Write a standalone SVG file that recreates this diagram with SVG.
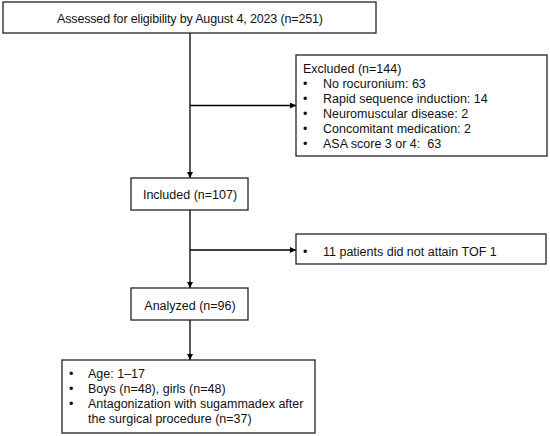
<svg xmlns="http://www.w3.org/2000/svg" width="550" height="436" viewBox="0 0 550 436">
<defs>
<marker id="ah" viewBox="0 0 10 10" refX="10" refY="5" markerWidth="6" markerHeight="6" markerUnits="userSpaceOnUse" orient="auto">
<path d="M0,0 L10,5 L0,10 z" fill="#000"/>
</marker>
<style>
.box{fill:#fff;stroke:#222;stroke-width:1.3}
.t{font-family:"Liberation Sans",Arial,sans-serif;font-size:12.5px;fill:#111}
.c{text-anchor:middle}
.ln{stroke:#000;stroke-width:1.3;fill:none}
</style>
</defs>
<rect width="550" height="436" fill="#fff"/>
<g id="connectors">
<line class="ln" x1="190" y1="33" x2="190" y2="178" marker-end="url(#ah)"/>
<line class="ln" x1="190" y1="105.5" x2="296" y2="105.5" marker-end="url(#ah)"/>
<line class="ln" x1="190" y1="210" x2="190" y2="288" marker-end="url(#ah)"/>
<line class="ln" x1="190" y1="250" x2="296" y2="250" marker-end="url(#ah)"/>
<line class="ln" x1="190" y1="320" x2="190" y2="360" marker-end="url(#ah)"/>
</g>
<g id="assessed">
<rect class="box" x="3" y="2" width="373" height="31"/>
<text class="t c" x="190" y="22.5" textLength="266">Assessed for eligibility by August 4, 2023 (n=251)</text>
</g>
<g id="excluded">
<rect class="box" x="296" y="55" width="251" height="101"/>
<text class="t" x="303" y="72.5">Excluded (n=144)</text>
<text class="t" x="303" y="87.5">•<tspan x="323">No rocuronium: 63</tspan></text>
<text class="t" x="303" y="102.5">•<tspan x="323">Rapid sequence induction: 14</tspan></text>
<text class="t" x="303" y="117.5">•<tspan x="323">Neuromuscular disease: 2</tspan></text>
<text class="t" x="303" y="133">•<tspan x="323">Concomitant medication: 2</tspan></text>
<text class="t" x="303" y="148">•<tspan x="323">ASA score 3 or 4:&#160; 63</tspan></text>
</g>
<g id="included">
<rect class="box" x="131" y="178" width="117" height="32"/>
<text class="t c" x="190" y="198.5">Included (n=107)</text>
</g>
<g id="tof">
<rect class="box" x="296" y="234" width="250" height="30"/>
<text class="t" x="303" y="255.5">•<tspan x="323">11 patients did not attain TOF 1</tspan></text>
</g>
<g id="analyzed">
<rect class="box" x="131" y="288" width="117" height="32"/>
<text class="t c" x="190" y="309.5">Analyzed (n=96)</text>
</g>
<g id="characteristics">
<rect class="box" x="62" y="360" width="253" height="73"/>
<text class="t" x="69" y="377.5">•<tspan x="88">Age: 1–17</tspan></text>
<text class="t" x="69" y="392.5">•<tspan x="88">Boys (n=48), girls (n=48)</tspan></text>
<text class="t" x="69" y="407.5">•<tspan x="88">Antagonization with sugammadex after</tspan></text>
<text class="t" x="88" y="422.5">the surgical procedure (n=37)</text>
</g>
</svg>
